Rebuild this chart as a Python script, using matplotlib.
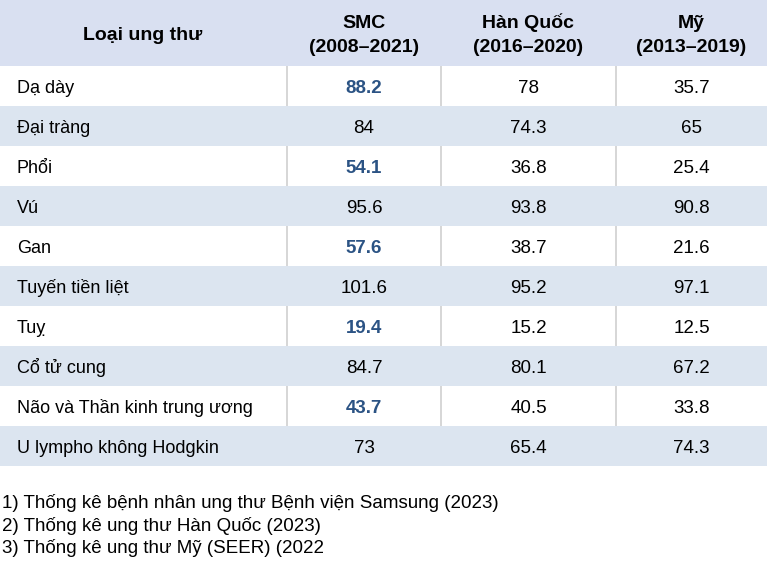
import matplotlib
matplotlib.use("Agg")
import matplotlib.pyplot as plt
from matplotlib.patches import Rectangle

plt.rcParams['font.family'] = ['Liberation Sans', 'DejaVu Sans']

categories = ["Dạ dày", "Đại tràng", "Phổi", "Vú", "Gan", "Tuyến tiền liệt",
              "Tuỵ", "Cổ tử cung", "Não và Thần kinh trung ương", "U lympho không Hodgkin"]
smc = ["88.2", "84", "54.1", "95.6", "57.6", "101.6", "19.4", "84.7", "43.7", "73"]
korea = ["78", "74.3", "36.8", "93.8", "38.7", "95.2", "15.2", "80.1", "40.5", "65.4"]
usa = ["35.7", "65", "25.4", "90.8", "21.6", "97.1", "12.5", "67.2", "33.8", "74.3"]
header_titles = ["Loại ung thư", "SMC", "Hàn Quốc", "Mỹ"]
header_periods = ["", "(2008–2021)", "(2016–2020)", "(2013–2019)"]
highlight = [True, False, True, False, True, False, True, False, True, False]
footnotes = ["1) Thống kê bệnh nhân ung thư Bệnh viện Samsung (2023)",
             "2) Thống kê ung thư Hàn Quốc (2023)",
             "3) Thống kê ung thư Mỹ (SEER) (2022"]

W, H = 767, 574
fig = plt.figure(figsize=(W / 100, H / 100), dpi=100)
ax = fig.add_axes([0, 0, 1, 1])
ax.set_xlim(0, W)
ax.set_ylim(H, 0)
ax.axis('off')

col_edges = [0, 287, 441, 616, 767]
header_h = 66
row_h = 40
fs_label = 13
fs_num = 13.5
fs_head = 14
fs_foot = 13.5
header_bg = "#D9E0F1"
band_bg = "#DCE5F0"
line_c = "#D0D0D0"
blue = "#2B5384"

# header
ax.add_patch(Rectangle((0, 0), W, header_h, facecolor=header_bg, edgecolor='none'))
centers = [(col_edges[i] + col_edges[i + 1]) / 2 for i in range(4)]
for i in range(4):
    if header_periods[i]:
        ax.text(centers[i], 28, header_titles[i], ha='center', va='baseline',
                fontsize=fs_head, fontweight='bold', color='black')
        ax.text(centers[i], 52, header_periods[i], ha='center', va='baseline',
                fontsize=fs_head, fontweight='bold', color='black')
    else:
        ax.text(centers[i] - 1, 39.5, header_titles[i], ha='center', va='baseline',
                fontsize=fs_head, fontweight='bold', color='black')

cols = [smc, korea, usa]
for r, cat in enumerate(categories):
    y0 = header_h + r * row_h
    yb = y0 + row_h / 2 + 6.7
    if r % 2 == 1:
        ax.add_patch(Rectangle((0, y0), W, row_h, facecolor=band_bg, edgecolor='none'))
    else:
        for x in col_edges[1:4]:
            ax.plot([x, x], [y0, y0 + row_h], color=line_c, lw=1.2, solid_capstyle='butt')
    ax.text(17, yb, cat, ha='left', va='baseline', fontsize=fs_label, color='black')
    for c, vals in enumerate(cols):
        bold = (c == 0 and highlight[r])
        ax.text(centers[c + 1], yb, vals[r], ha='center', va='baseline', fontsize=fs_num,
                color=blue if bold else 'black', fontweight='bold' if bold else 'normal')

for i, f in enumerate(footnotes):
    ax.text(2, 508 + i * 22.7, f, ha='left', va='baseline', fontsize=fs_foot, color='black')

fig.savefig("out.png", dpi=100, facecolor='white')
